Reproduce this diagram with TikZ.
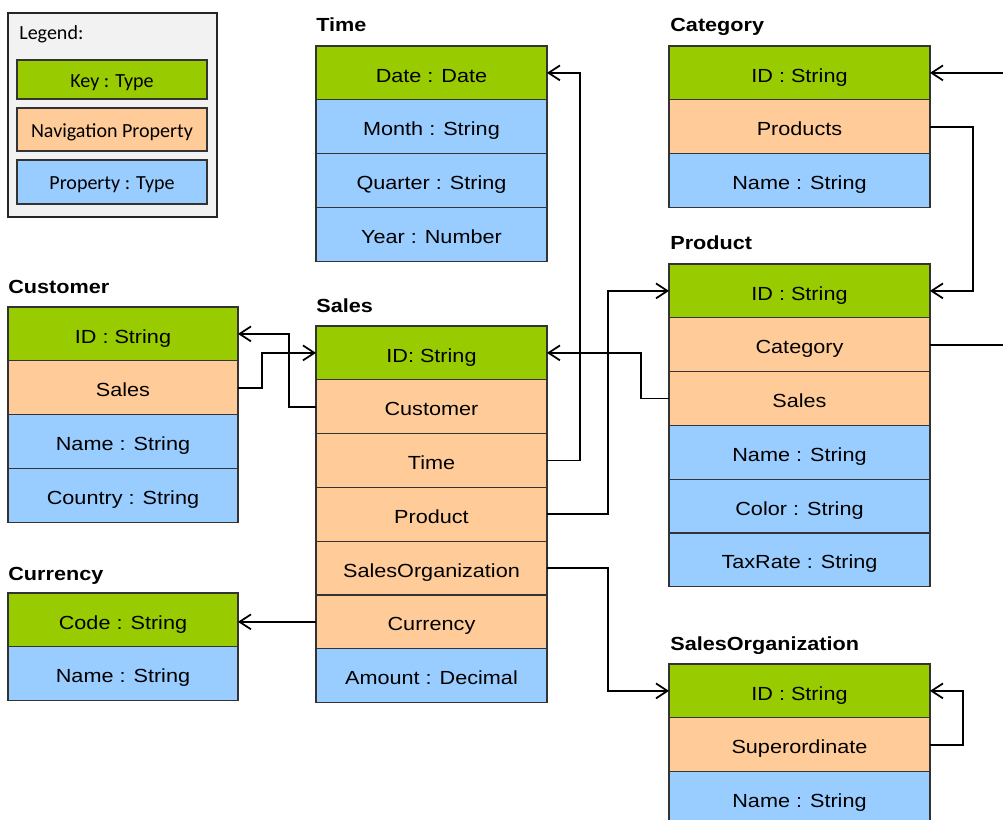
\documentclass[tikz,border=0pt]{standalone}
\usepackage{fontspec}
\usepackage{tikz}
\usetikzlibrary{arrows.meta,positioning}
\newfontfamily\cellfont[FakeStretch=1.14]{Liberation Sans}
\newfontfamily\legfont{Carlito}
\definecolor{keygreen}{RGB}{153,204,0}
\definecolor{navorange}{RGB}{255,204,153}
\definecolor{propblue}{RGB}{153,204,255}
\definecolor{legendgray}{RGB}{242,242,242}

\begin{document}
\begin{tikzpicture}[x=0.02cm,y=-0.02cm]
						\tikzstyle{row}=[draw=black!80,line width=0.7pt,minimum height=1.076cm,inner sep=0pt,outer sep=0pt,text height=10.4pt,text depth=0pt,font=\cellfont\fontsize{10.8}{13}\selectfont]
						\tikzstyle{key}=[row,fill=keygreen]
						\tikzstyle{nav}=[row,fill=navorange]
						\tikzstyle{prop}=[row,fill=propblue]
						\tikzstyle{left}=[minimum width=4.6cm]
						\tikzstyle{mid}=[minimum width=4.62cm]
						\tikzstyle{right}=[minimum width=5.22cm]
						\tikzstyle{title}=[anchor=base west,inner sep=0pt,font=\cellfont\bfseries\fontsize{10.8}{13}\selectfont]
						\tikzstyle{legitem}=[draw=black!80,line width=0.7pt,minimum width=3.8cm,inner sep=0pt,text height=8.8pt,text depth=0pt,font=\legfont\fontsize{11.4}{13}\selectfont]
						\tikzstyle{link}=[draw=black,line width=1pt,-{Straight Barb[length=6.5pt,width=8.5pt]}]
						\useasboundingbox (0,0) rectangle (1003,820);
						% legend
						\draw[fill=legendgray,draw=black!85,line width=0.9pt] (8,13) rectangle (217,217);
						\node[anchor=base west,inner sep=0pt,font=\legfont\fontsize{11.4}{13}\selectfont] (leg) at (19,40) {Legend:};
						\node[legitem,fill=keygreen,minimum height=0.78cm] (leg-key) at (112,79.5) {Key : Type};
						\node[legitem,fill=navorange,minimum height=0.86cm] (leg-nav) at (112,129.5) {Navigation Property};
						\node[legitem,fill=propblue,minimum height=0.88cm] (leg-prop) at (112,182) {Property : Type};
						% Time
						\node[title] (tim-t) at (316,32) {Time};
						\node[key,mid,anchor=north west] (tim-date) at (316,46) {Date : Date};
						\node[prop,mid,below=0pt of tim-date] (tim-month) {Month : String};
						\node[prop,mid,below=0pt of tim-month] (tim-quarter) {Quarter : String};
						\node[prop,mid,below=0pt of tim-quarter] (tim-year) {Year : Number};
						% Category
						\node[title] (cat-t) at (670,32) {Category};
						\node[key,right,anchor=north west] (cat-id) at (669,46) {ID : String};
						\node[nav,right,below=0pt of cat-id] (cat-prods) {Products};
						\node[prop,right,below=0pt of cat-prods] (cat-name) {Name : String};
						% Product
						\node[title] (prd-t) at (670,250) {Product};
						\node[key,right,anchor=north west] (prd-id) at (669,264) {ID : String};
						\node[nav,right,below=0pt of prd-id] (prd-cat) {Category};
						\node[nav,right,below=0pt of prd-cat] (prd-sales) {Sales};
						\node[prop,right,below=0pt of prd-sales] (prd-name) {Name : String};
						\node[prop,right,below=0pt of prd-name] (prd-color) {Color : String};
						\node[prop,right,below=0pt of prd-color] (prd-tax) {TaxRate : String};
						% Customer
						\node[title] (cus-t) at (8,294) {Customer};
						\node[key,left,anchor=north west] (cus-id) at (8,307) {ID : String};
						\node[nav,left,below=0pt of cus-id] (cus-sales) {Sales};
						\node[prop,left,below=0pt of cus-sales] (cus-name) {Name : String};
						\node[prop,left,below=0pt of cus-name] (cus-country) {Country : String};
						% Sales
						\node[title] (sal-t) at (316,313) {Sales};
						\node[key,mid,anchor=north west] (sal-id) at (316,326) {ID: String};
						\node[nav,mid,below=0pt of sal-id] (sal-cust) {Customer};
						\node[nav,mid,below=0pt of sal-cust] (sal-time) {Time};
						\node[nav,mid,below=0pt of sal-time] (sal-prod) {Product};
						\node[nav,mid,below=0pt of sal-prod] (sal-org) {SalesOrganization};
						\node[nav,mid,below=0pt of sal-org] (sal-cur) {Currency};
						\node[prop,mid,below=0pt of sal-cur] (sal-amount) {Amount : Decimal};
						% Currency
						\node[title] (cur-t) at (8,580) {Currency};
						\node[key,left,anchor=north west] (cur-code) at (8,593) {Code : String};
						\node[prop,left,below=0pt of cur-code] (cur-name) {Name : String};
						% SalesOrganization
						\node[title] (org-t) at (670,650) {SalesOrganization};
						\node[key,right,anchor=north west] (org-id) at (669,664) {ID : String};
						\node[nav,right,below=0pt of org-id] (org-sup) {Superordinate};
						\node[prop,right,below=0pt of org-sup] (org-name) {Name : String};
						% links
						\coordinate (cat-in) at (1010,73);
						\coordinate (prd-out) at (1010,346);
						\draw[link] (cus-sales.east) -- ++(24,0) |- (sal-id.west);
						\draw[link] (sal-cust.west) -- ++(-27,0) |- (cus-id.east);
						\draw[link] (sal-time.east) -- ++(33,0) |- (tim-date.east);
						\draw[link] (sal-prod.east) -- ++(61,0) |- (prd-id.west);
						\draw[link] (prd-sales.west) -- ++(-28,0) |- (sal-id.east);
						\draw[link] (sal-org.east) -- ++(61,0) |- (org-id.west);
						\draw[link] (sal-cur.west) -- (sal-cur.west -| cur-code.east);
						\draw[link] (cat-prods.east) -- ++(43,0) |- (prd-id.east);
						\draw[link,-] (prd-cat.east) -- (prd-out |- prd-cat.east);
						\draw[link] (cat-in) -- (cat-id.east);
						\draw[link] (org-sup.east) -- ++(33,0) |- (org-id.east);
						\end{tikzpicture}
\end{document}
